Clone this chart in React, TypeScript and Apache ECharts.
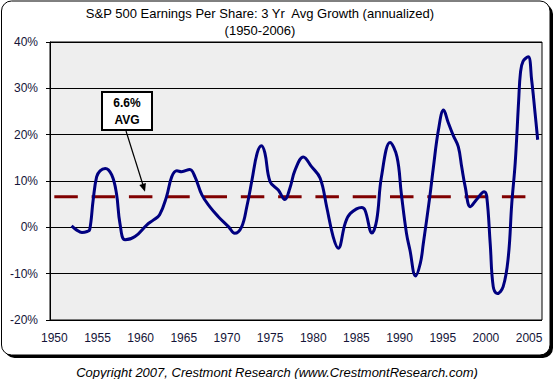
import React, { useEffect, useRef } from "react";
import * as echarts from "echarts";

const years: number[] = [
  1952.0, 1952.6, 1953.2, 1953.8, 1954.1, 1954.5, 1954.9, 1955.3, 1955.9, 1956.65,
  1957.2, 1957.6, 1958.2, 1959.35, 1960.7, 1961.5, 1962.2, 1963.0, 1963.6, 1964.2,
  1964.75, 1965.7, 1966.3, 1967.1, 1968.0, 1969.0, 1970.2, 1970.9, 1971.7, 1972.3,
  1972.9, 1973.5, 1974.0, 1974.4, 1975.0, 1975.95, 1976.7, 1977.3, 1977.9, 1978.85,
  1979.8, 1980.8, 1981.55, 1982.3, 1982.9, 1983.7, 1984.3, 1985.6, 1986.0, 1986.8,
  1987.35, 1987.9, 1988.9, 1989.7, 1990.2, 1990.8, 1991.2, 1991.85, 1992.4, 1992.75,
  1993.5, 1993.9, 1994.5, 1995.1, 1995.6, 1996.2, 1996.8, 1997.2, 1997.6, 1998.2,
  1998.95, 1999.8, 2000.1, 2000.5, 2000.85, 2001.3, 2002.0, 2002.6, 2003.0, 2003.4,
  2003.8, 2004.0, 2004.3, 2004.9, 2005.3, 2005.7, 2006.0,
];

const growth: number[] = [
  0.3, -0.6, -1.1, -0.9, -0.5, 5.9, 10.9, 12.2, 12.7, 11.3,
  7.3, 0.9, -2.7, -2.0, 0.5, 1.6, 2.7, 6.6, 10.9, 12.2,
  12.0, 12.5, 10.9, 7.0, 4.45, 2.3, 0.1, -1.3, 0.1, 4.45,
  10.2, 16.0, 17.6, 16.0, 9.85, 8.05, 6.0, 8.5, 12.4, 15.2,
  13.1, 10.6, 4.45, -2.0, -4.5, 0.9, 3.0, 4.3, 3.7, -1.2,
  1.6, 10.9, 18.3, 15.2, 7.3, -1.3, -4.9, -10.5, -7.8, -3.5,
  6.6, 12.7, 21.0, 25.3, 22.8, 19.9, 17.4, 13.0, 8.8, 4.45,
  6.05, 7.7, 6.6, -3.5, -12.8, -14.3, -12.8, -6.3, 5.2, 14.0,
  27.5, 33.3, 35.8, 36.8, 31.8, 24.6, 18.9,
];

const avgYears: number[] = [1950, 2006];
const avgValue = 6.6;

const xTickLabels: number[] = [1950, 1955, 1960, 1965, 1970, 1975, 1980, 1985, 1990, 1995, 2000, 2005];

const titleText = "S&P 500 Earnings Per Share: 3 Yr  Avg Growth (annualized)";
const subtitleText = "(1950-2006)";
const copyrightText = "Copyright 2007, Crestmont Research (www.CrestmontResearch.com)";
const avgLabel = "6.6%\nAVG";

export default function App() {
  const ref = useRef<HTMLDivElement>(null);

  useEffect(() => {
    if (!ref.current) return;
    const chart = echarts.init(ref.current, undefined, { renderer: "svg" });
    const font = "'Liberation Sans', Arial, sans-serif";
    chart.setOption({
      animation: false,
      backgroundColor: "#ffffff",
      textStyle: { fontFamily: font },
      grid: {
        left: 50,
        top: 42,
        width: 492,
        height: 278,
        show: true,
        backgroundColor: "#eeeeee",
        borderColor: "#000000",
        borderWidth: 1,
        containLabel: false,
      },
      xAxis: {
        type: "value",
        min: 1949.5,
        max: 2006.5,
        axisLine: { show: true, lineStyle: { color: "#000000", width: 1 } },
        axisTick: { show: false },
        splitLine: { show: false },
        axisLabel: {
          customValues: xTickLabels,
          color: "#141438",
          fontSize: 12,
          fontFamily: font,
          margin: 12,
          formatter: (v: number) => String(Math.round(v)),
        },
      },
      yAxis: {
        type: "value",
        min: -20,
        max: 40,
        interval: 10,
        axisLine: { show: true, onZero: false, lineStyle: { color: "#000000", width: 1 } },
        axisTick: { show: true, length: 4, lineStyle: { color: "#000000" } },
        splitLine: { show: true, lineStyle: { color: "#000000", width: 1 } },
        axisLabel: {
          color: "#141438",
          fontSize: 12,
          fontFamily: font,
          margin: 12,
          formatter: "{value}%",
        },
      },
      series: [
        {
          type: "line",
          name: "Average",
          data: avgYears.map((y) => [y, avgValue]),
          symbol: "none",
          lineStyle: { color: "#800000", width: 3, type: [23.5, 13.8] },
          z: 2,
        },
        {
          type: "line",
          name: "EPS growth",
          data: years.map((y, i) => [y, growth[i]]),
          symbol: "none",
          smooth: 0.4,
          lineStyle: { color: "#000080", width: 3 },
          z: 3,
        },
      ],
      graphic: [
        {
          type: "rect",
          z: -20,
          silent: true,
          shape: { x: 4.5, y: 4, width: 548.5, height: 354, r: 10 },
          style: { fill: "#000000" },
        },
        {
          type: "rect",
          z: -19,
          silent: true,
          shape: { x: 1.5, y: 1, width: 548.5, height: 354, r: 10 },
          style: { fill: "#ffffff", stroke: "#000000", lineWidth: 1 },
        },
        {
          type: "text",
          z: 10,
          style: {
            text: titleText,
            x: 260,
            y: 13,
            align: "center",
            verticalAlign: "middle",
            fontFamily: font,
            fontSize: 13,
            fill: "#000000",
          },
        },
        {
          type: "text",
          z: 10,
          style: {
            text: subtitleText,
            x: 260,
            y: 30,
            align: "center",
            verticalAlign: "middle",
            fontFamily: font,
            fontSize: 13,
            fill: "#000000",
          },
        },
        {
          type: "text",
          z: 10,
          style: {
            text: copyrightText,
            x: 277,
            y: 372,
            align: "center",
            verticalAlign: "middle",
            fontFamily: font,
            fontSize: 13,
            fontStyle: "italic",
            fill: "#000000",
          },
        },
        {
          type: "rect",
          z: 100,
          shape: { x: 102, y: 92, width: 50, height: 38 },
          style: { fill: "#ffffff", stroke: "#000000", lineWidth: 2 },
        },
        {
          type: "text",
          z: 101,
          style: {
            text: avgLabel,
            x: 127,
            y: 111,
            align: "center",
            verticalAlign: "middle",
            fontFamily: font,
            fontSize: 12,
            fontWeight: "bold",
            lineHeight: 17,
            fill: "#000000",
          },
        },
        {
          type: "line",
          z: 100,
          shape: { x1: 126, y1: 131, x2: 143, y2: 185 },
          style: { stroke: "#000000", lineWidth: 1.2 },
        },
        {
          type: "polygon",
          z: 100,
          shape: { points: [[145, 191.7], [139.3, 185.1], [145.9, 183.1]] },
          style: { fill: "#000000" },
        },
      ],
    });
    return () => chart.dispose();
  }, []);

  return (
    <div
      ref={ref}
      style={{ position: "absolute", left: 0, top: 0, width: 556, height: 379 }}
    />
  );
}
